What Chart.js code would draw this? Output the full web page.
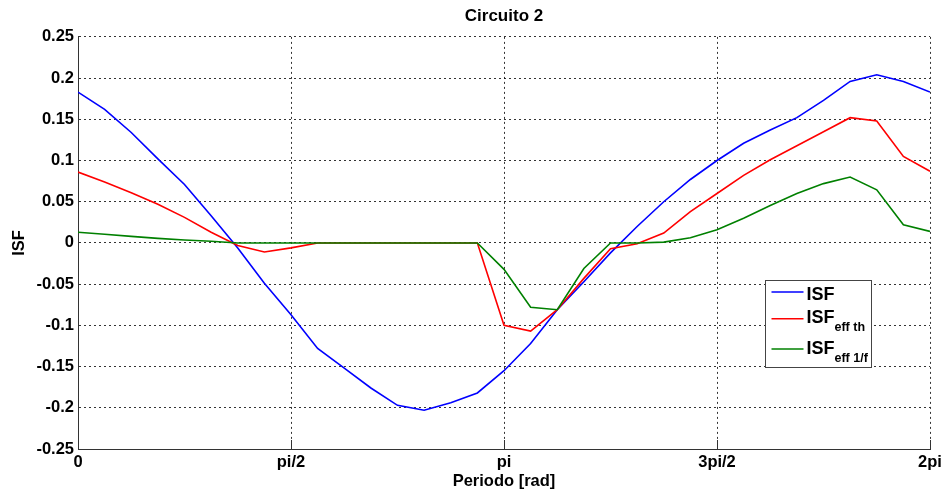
<!DOCTYPE html>
<html>
<head>
<meta charset="utf-8">
<script src="https://cdn.jsdelivr.net/npm/chart.js@4.4.0/dist/chart.umd.min.js"></script>
<style>
  html, body { margin: 0; padding: 0; background: #fff; }
  #wrap { width: 948px; height: 497px; }
</style>
</head>
<body>
<div id="wrap"><canvas id="isfChart"></canvas></div>
<script>
// fase en unidades de pi/16 (33 muestras, 0 .. 2pi)
const fase = [0, 1, 2, 3, 4, 5, 6, 7, 8, 9, 10, 11, 12, 13, 14, 15, 16,
              17, 18, 19, 20, 21, 22, 23, 24, 25, 26, 27, 28, 29, 30, 31, 32];
const ticksX = [0, 8, 16, 24, 32];
const etiquetasX = ["0", "pi/2", "pi", "3pi/2", "2pi"];

const isf = [0.183, 0.162, 0.134, 0.102, 0.071, 0.033, -0.006, -0.049, -0.087,
             -0.128, -0.152, -0.176, -0.197, -0.203, -0.194, -0.182, -0.155,
             -0.122, -0.081, -0.047, -0.012, 0.020, 0.050, 0.077, 0.100,
             0.121, 0.137, 0.152, 0.173, 0.196, 0.204, 0.196, 0.183];
const isfTh = [0.086, 0.074, 0.061, 0.047, 0.031, 0.013, -0.003, -0.011, -0.006,
               0, 0, 0, 0, 0, 0, 0, -0.100,
               -0.107, -0.081, -0.043, -0.007, -0.001, 0.012, 0.038, 0.060,
               0.082, 0.101, 0.118, 0.135, 0.152, 0.148, 0.105, 0.087];
const isf1f = [0.013, 0.0105, 0.008, 0.0056, 0.0036, 0.002, 0, 0, 0,
               0, 0, 0, 0, 0, 0, 0, -0.032,
               -0.078, -0.081, -0.031, 0, 0, 0.001, 0.0064, 0.016,
               0.030, 0.0455, 0.060, 0.072, 0.080, 0.0645, 0.022, 0.014];

const nombres = [["ISF", ""], ["ISF", "eff th"], ["ISF", "eff 1/f"]];
const colores = ["#0000ff", "#ff0000", "#008000"];

function puntos(vals) {
    return vals.map((v, i) => ({ x: fase[i], y: v }));
}

const fuente = "'Liberation Sans', Arial, sans-serif";

// leyenda con subindices + ticks hacia dentro
const extras = {
    id: "extras",
    afterDatasetsDraw(chart) {
        const ctx = chart.ctx;
        const xs = chart.scales.x, ys = chart.scales.y;
        const area = chart.chartArea;
        ctx.save();
        ctx.strokeStyle = "#333";
        ctx.lineWidth = 1;
        ctx.setLineDash([]);
        ticksX.forEach(t => {
            const px = Math.round(xs.getPixelForValue(t)) + 0.5;
            ctx.beginPath();
            ctx.moveTo(px, area.bottom);
            ctx.lineTo(px, area.bottom - 9);
            ctx.stroke();
        });

        // caja de la leyenda
        const bx = Math.round(xs.getPixelForValue(25.8)) + 0.5;
        const by = Math.round(ys.getPixelForValue(-0.0455)) + 0.5;
        const bw = 106, bh = 87;
        ctx.fillStyle = "#fff";
        ctx.fillRect(bx, by, bw, bh);
        ctx.strokeStyle = "#444";
        ctx.strokeRect(bx, by, bw, bh);

        const lineaY = [11.6, 38.3, 68.6];
        const baseY = [19.3, 42.6, 73.6];
        const subY = [0, 50, 81.6];
        for (let i = 0; i < nombres.length; i++) {
            ctx.strokeStyle = colores[i];
            ctx.lineWidth = 1.5;
            ctx.beginPath();
            ctx.moveTo(bx + 6, by + lineaY[i]);
            ctx.lineTo(bx + 38, by + lineaY[i]);
            ctx.stroke();
            ctx.fillStyle = "#000";
            ctx.textBaseline = "alphabetic";
            ctx.textAlign = "left";
            ctx.font = "bold 18px " + fuente;
            ctx.fillText(nombres[i][0], bx + 41, by + baseY[i]);
            if (nombres[i][1]) {
                const w = ctx.measureText(nombres[i][0]).width;
                ctx.font = "bold 12.5px " + fuente;
                ctx.fillText(nombres[i][1], bx + 41 + w, by + subY[i]);
            }
        }
        ctx.restore();
    }
};

const datos = {
    datasets: [
        { label: "ISF", data: puntos(isf), borderColor: colores[0], order: 3 },
        { label: "ISF eff th", data: puntos(isfTh), borderColor: colores[1], order: 2 },
        { label: "ISF eff 1/f", data: puntos(isf1f), borderColor: colores[2], order: 1 }
    ]
};

const config = {
    type: "line",
    data: datos,
    plugins: [extras],
    options: {
        responsive: true,
        maintainAspectRatio: false,
        animation: false,
        elements: {
            line: { borderWidth: 1.6, tension: 0, fill: false },
            point: { radius: 0 }
        },
        layout: { padding: { left: 0, right: 18, top: 0, bottom: 0 } },
        plugins: {
            legend: { display: false },
            tooltip: { enabled: false },
            title: {
                display: true,
                fullSize: false,
                text: "Circuito 2",
                color: "#000",
                font: { family: fuente, size: 17, weight: "bold" },
                padding: { top: 6.5, bottom: 10 }
            }
        },
        scales: {
            x: {
                type: "linear",
                min: 0,
                max: 32,
                afterBuildTicks: s => { s.ticks = ticksX.map(v => ({ value: v })); },
                afterFit: s => { s.height = 48; },
                ticks: {
                    color: "#000",
                    padding: 3.5,
                    maxRotation: 0,
                    font: { family: fuente, size: 16.5, weight: "bold" },
                    callback: (v) => etiquetasX[ticksX.indexOf(v)]
                },
                grid: { color: "rgba(0,0,0,0.8)", lineWidth: 1, drawTicks: false },
                border: { display: true, color: "#333", width: 1, dash: [2, 3] },
                title: {
                    display: true,
                    text: "Periodo [rad]",
                    color: "#000",
                    font: { family: fuente, size: 16.5, weight: "bold" },
                    padding: { top: 0, bottom: 6 }
                }
            },
            y: {
                min: -0.25,
                max: 0.25,
                afterFit: s => { s.width = 78; },
                ticks: {
                    stepSize: 0.05,
                    color: "#000",
                    padding: 4,
                    font: { family: fuente, size: 16.5, weight: "bold" },
                    callback: (v) => String(Number(v.toFixed(2)))
                },
                grid: { color: "rgba(0,0,0,0.8)", lineWidth: 1, drawTicks: false },
                border: { display: true, color: "#333", width: 1, dash: [2, 3] },
                title: {
                    display: true,
                    text: "ISF",
                    color: "#000",
                    font: { family: fuente, size: 16.5, weight: "bold" },
                    padding: { top: 9.5, bottom: 0 }
                }
            }
        }
    }
};

const isfChart = new Chart(document.querySelector("#isfChart"), config);
</script>
</body>
</html>
